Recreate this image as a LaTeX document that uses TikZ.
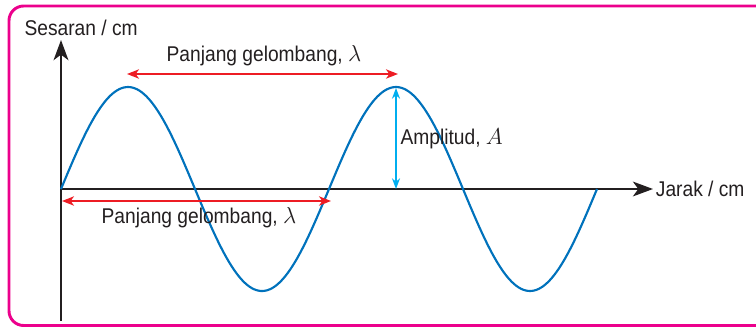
\documentclass[tikz,border=0pt]{standalone}
\usepackage{amsmath,amssymb}
\usepackage{fontspec}
\setmainfont{Liberation Sans}[FakeStretch=0.9]
\usepackage{tikz}
\usetikzlibrary{arrows.meta,positioning}
\definecolor{framepink}{RGB}{236,0,140}
\definecolor{waveblue}{RGB}{0,114,188}
\definecolor{amplcyan}{RGB}{0,174,239}
\definecolor{lamred}{RGB}{237,28,36}
\definecolor{inkgrey}{RGB}{35,31,32}

\begin{document}
\begin{tikzpicture}[x=0.75pt,y=-0.75pt,
  axis/.style={line width=2pt,inkgrey,-{Stealth[length=15pt,width=11pt,inset=4pt]}},
  lamarrow/.style={line width=1.1pt,lamred,{Stealth[length=9pt,width=7pt,inset=2.5pt]}-{Stealth[length=9pt,width=7pt,inset=2.5pt]}},
  amparrow/.style={line width=1.1pt,amplcyan,{Stealth[length=8pt,width=6pt,inset=2.5pt]}-{Stealth[length=8pt,width=6pt,inset=2.5pt]}},
  lbl/.style={inner sep=1pt,text=inkgrey,font=\fontsize{16}{19}\selectfont}]
\useasboundingbox (0,0) rectangle (756,326);
% frame
\draw[framepink,line width=2.2pt,rounded corners=11pt] (9,6) rectangle (780,325.5);
% axes
\coordinate (O) at (61,189);
\coordinate (ytop) at (61,40);
\coordinate (ybot) at (61,321);
\coordinate (xend) at (653,189);
\draw[axis] (ybot) -- (ytop);
\draw[axis] (O) -- (xend);
\node[lbl,anchor=west] (sesaran) at (23,28) {Sesaran / cm};
\node[lbl,right=1pt of xend] (jarak) {Jarak / cm};
% wave
\draw[waveblue,line width=1.6pt] plot[domain=0:536,samples=240,smooth] ({61+\x},{189-102*sin(\x/268*360)});
% wavelength between crests
\coordinate (crestL) at (127,74);
\coordinate (crestR) at (398,74);
\draw[lamarrow] (crestL) -- (crestR);
\node[lbl] (lamtop) at (264,56) {Panjang gelombang, $\lambda$};
% wavelength along axis
\coordinate (zeroL) at (62,201);
\coordinate (zeroR) at (331,201);
\draw[lamarrow] (zeroL) -- (zeroR);
\node[lbl] (lambot) at (199,218) {Panjang gelombang, $\lambda$};
% amplitude
\coordinate (peak) at (396,88);
\coordinate (base) at (396,189);
\draw[amparrow] (peak) -- (base);
\node[lbl,anchor=west] (ampl) at (399,139) {Amplitud, $A$};
\end{tikzpicture}
\end{document}
